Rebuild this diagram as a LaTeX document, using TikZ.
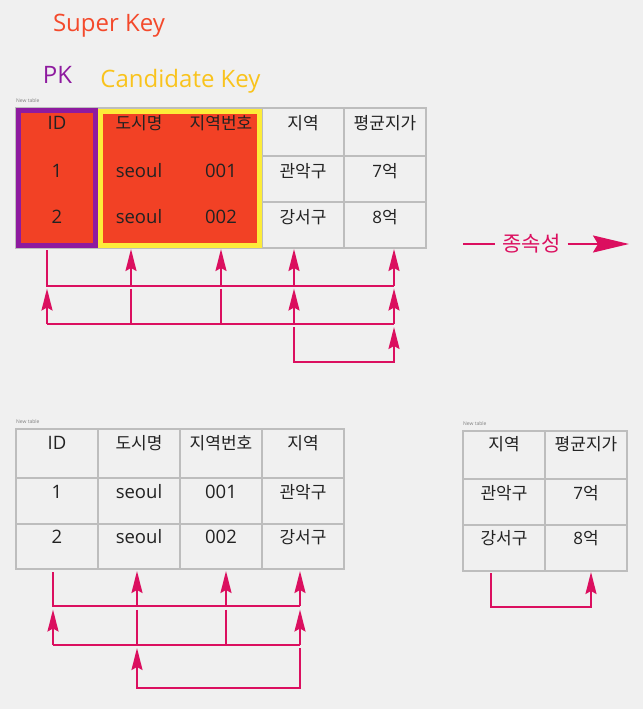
\documentclass[tikz,border=0pt]{standalone}
\usepackage{fontspec}
\setmainfont{Open Sans}
\newfontfamily\kr{Noto Sans CJK KR}
\newfontfamily\latf{Open Sans}
\usetikzlibrary{arrows.meta}
\definecolor{bgc}{HTML}{F0F0F0}
\definecolor{gridc}{HTML}{BDBDBD}
\definecolor{txtc}{HTML}{222222}
\definecolor{redc}{HTML}{F24125}
\definecolor{purc}{HTML}{8E1A9F}
\definecolor{yelc}{HTML}{FDEC3A}
\definecolor{goldc}{HTML}{F9C31C}
\definecolor{superc}{HTML}{F4492B}
\definecolor{magc}{HTML}{DB0F5F}
\begin{document}
\begin{tikzpicture}[x=1pt,y=-1pt,
 gridline/.style={draw=gridc,line width=1.5pt},
 lat/.style={font=\fontsize{18.5}{22}\selectfont,text=txtc,anchor=base,inner sep=0pt},
 kor/.style={font=\kr\fontsize{17}{20}\selectfont,text=txtc,anchor=base,inner sep=0pt},
 titletext/.style={font=\fontsize{24}{28}\selectfont,anchor=base,inner sep=0pt},
 tinytext/.style={font=\fontsize{5}{6}\selectfont,text=gray,anchor=west,inner sep=0pt},
 dep/.style={draw=magc,line width=2pt},
 deparr/.style={dep,-{Stealth[length=22pt,width=11pt,inset=3pt]}},
]
\useasboundingbox (0,0) rectangle (643,709);
\fill[bgc] (0,0) rectangle (643,709);

% titles
\node[titletext,text=superc] (super) at (109,32) {Super Key};
\node[titletext,text=purc] (pk) at (57.5,84) {PK};
\node[titletext,text=goldc] (cand) at (180.5,87) {Candidate Key};

% ---------- top table ----------
\node[tinytext] (newt1) at (16,101) {New table};
\draw[gridline] (16,108) rectangle (426,248);
\foreach \x in {98,180,262,344} \draw[gridline] (\x,108) -- (\x,248);
\foreach \y in {156,202} \draw[gridline] (16,\y) -- (426,\y);
\draw[draw=purc,line width=5pt,fill=redc] (18.5,110.5) rectangle (95.5,245.5);
\draw[draw=yelc,line width=5pt,fill=redc] (100.5,111.5) rectangle (259.5,245.5);

\node[lat] (tid) at (57,129) {ID};
\node[kor] (tcity) at (139,129) {도시명};
\node[kor] (tcode) at (221,129) {지역번호};
\node[kor] (treg) at (303,129) {지역};
\node[kor] (tprice) at (385,129) {평균지가};
\node[lat] (tidA) at (57,177) {1};
\node[lat] (tcityA) at (139,177) {seoul};
\node[lat] (tcodeA) at (221,177) {001};
\node[kor] (tregA) at (303,177) {관악구};
\node[kor] (tpriceA) at (385,177) {{\latf 7}억};
\node[lat] (tidB) at (57,223) {2};
\node[lat] (tcityB) at (139,223) {seoul};
\node[lat] (tcodeB) at (221,223) {002};
\node[kor] (tregB) at (303,223) {강서구};
\node[kor] (tpriceB) at (385,223) {{\latf 8}억};

% top connectors
\coordinate (pa) at (47,250);
\coordinate (pb) at (131,249);
\coordinate (pc) at (221,249);
\coordinate (pd) at (294,249);
\coordinate (pe) at (394,249);
\coordinate (ha) at (0,286);
\coordinate (hb) at (0,288.5);
\coordinate (hc) at (0,324);
\coordinate (hd) at (0,327);
\coordinate (he) at (0,362);
\draw[dep] (pa) -- (pa |- ha) -- (pe |- ha);
\foreach \p in {pb,pc,pd,pe} \draw[deparr] (\p |- ha) -- (\p);
\draw[dep] (pb |- hb) -- (pb |- hc);
\draw[dep] (pc |- hb) -- (pc |- hc);
\draw[dep] (pa |- hc) -- (pe |- hc);
\foreach \p in {pa,pd,pe} \draw[deparr] (\p |- hc) -- (\p |- hb);
\draw[deparr] (pd |- hd) |- (pe |- he) -- (pe |- hd);

% dependency legend
\node[font=\kr\fontsize{21}{24}\selectfont,text=magc,anchor=base,inner ysep=0pt,inner xsep=7pt] (deplbl) at (531.5,251) {종속성};
\coordinate (da) at (463,244);
\coordinate (db) at (629,244);
\draw[dep] (da) -- (deplbl.west |- da);
\draw[dep,-{Stealth[length=36pt,width=17pt,inset=5pt]}] (deplbl.east |- da) -- (db);

% ---------- bottom left table ----------
\node[tinytext] (newt2) at (16,422) {New table};
\draw[gridline] (16,429) rectangle (344,569);
\foreach \x in {98,180,262} \draw[gridline] (\x,429) -- (\x,569);
\foreach \y in {478,524} \draw[gridline] (16,\y) -- (344,\y);
\node[lat] (bid) at (57,449) {ID};
\node[kor] (bcity) at (139,449) {도시명};
\node[kor] (bcode) at (221,449) {지역번호};
\node[kor] (breg) at (303,449) {지역};
\node[lat] (bidA) at (57,498) {1};
\node[lat] (bcityA) at (139,498) {seoul};
\node[lat] (bcodeA) at (221,498) {001};
\node[kor] (bregA) at (303,498) {관악구};
\node[lat] (bidB) at (57,543) {2};
\node[lat] (bcityB) at (139,543) {seoul};
\node[lat] (bcodeB) at (221,543) {002};
\node[kor] (bregB) at (303,543) {강서구};

\coordinate (qa) at (53,572);
\coordinate (qb) at (137,571);
\coordinate (qc) at (226,571);
\coordinate (qd) at (300,571);
\coordinate (ia) at (0,606);
\coordinate (ib) at (0,609.5);
\coordinate (ic) at (0,645);
\coordinate (id) at (0,648);
\coordinate (ie) at (0,688);
\draw[dep] (qa) -- (qa |- ia) -- (qd |- ia);
\foreach \p in {qb,qc,qd} \draw[deparr] (\p |- ia) -- (\p);
\draw[dep] (qb |- ib) -- (qb |- ic);
\draw[dep] (qc |- ib) -- (qc |- ic);
\draw[dep] (qa |- ic) -- (qd |- ic);
\foreach \p in {qa,qd} \draw[deparr] (\p |- ic) -- (\p |- ib);
\draw[deparr] (qd |- id) |- (qb |- ie) -- (qb |- id);

% ---------- bottom right table ----------
\node[tinytext] (newt3) at (463,424) {New table};
\draw[gridline] (463,431) rectangle (627,571);
\draw[gridline] (545,431) -- (545,571);
\foreach \y in {479,525} \draw[gridline] (463,\y) -- (627,\y);
\node[kor] (rreg) at (504,450) {지역};
\node[kor] (rprice) at (586,450) {평균지가};
\node[kor] (rregA) at (504,499) {관악구};
\node[kor] (rpriceA) at (586,499) {{\latf 7}억};
\node[kor] (rregB) at (504,544) {강서구};
\node[kor] (rpriceB) at (586,544) {{\latf 8}억};

\coordinate (ra) at (491,573);
\coordinate (rb) at (591,572);
\coordinate (ja) at (0,607);
\draw[deparr] (ra) |- (rb |- ja) -- (rb);
\end{tikzpicture}
\end{document}
